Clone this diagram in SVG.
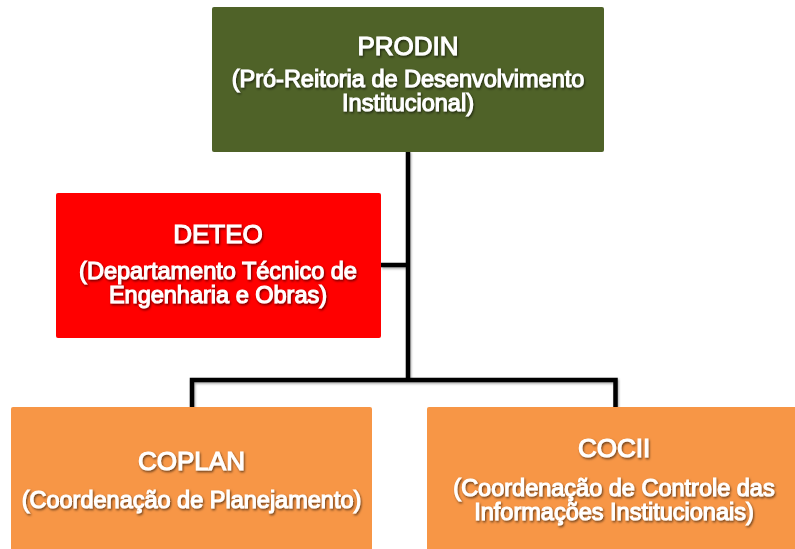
<svg xmlns="http://www.w3.org/2000/svg" width="795" height="549" viewBox="0 0 795 549">
<defs>
<filter id="ts" x="-10%" y="-30%" width="120%" height="160%">
<feDropShadow dx="1" dy="1.5" stdDeviation="0.9" flood-color="#000" flood-opacity="0.6"/>
</filter>
<filter id="ls" x="-10%" y="-10%" width="120%" height="120%">
<feDropShadow dx="1" dy="1.5" stdDeviation="1.2" flood-color="#000" flood-opacity="0.35"/>
</filter>
</defs>
<style>
.t{font-family:"Liberation Sans",Arial,sans-serif;fill:#fff;stroke:#fff;stroke-width:1.1;text-anchor:middle;filter:url(#ts)}
.h{font-size:26px}
.s{font-size:23.5px}
.c{fill:none;stroke:#000;stroke-width:4.5;stroke-linejoin:miter}
</style>
<rect width="795" height="549" fill="#fff"/>
<g id="connectors" filter="url(#ls)">
<path class="c" d="M408,151 V380"/>
<path class="c" d="M381,265 H408"/>
<path class="c" d="M192,407 V380 H615.5 V407"/>
</g>
<g id="prodin">
<rect x="212" y="7" width="392" height="145" rx="2" fill="#4F6228"/>
<text class="t h" x="408" y="55">PRODIN</text>
<text class="t s" x="408" y="87">(Pró-Reitoria de Desenvolvimento</text>
<text class="t s" x="408" y="111">Institucional)</text>
</g>
<g id="deteo">
<rect x="56" y="193" width="325" height="145" rx="2" fill="#FF0000"/>
<text class="t h" x="218" y="243">DETEO</text>
<text class="t s" x="218" y="279">(Departamento Técnico de</text>
<text class="t s" x="218" y="303">Engenharia e Obras)</text>
</g>
<g id="coplan">
<rect x="11" y="407" width="361" height="146" rx="2" fill="#F79646"/>
<text class="t h" x="191.5" y="470">COPLAN</text>
<text class="t s" x="191.5" y="508">(Coordenação de Planejamento)</text>
</g>
<g id="cocii">
<rect x="427" y="407" width="372" height="146" rx="2" fill="#F79646"/>
<text class="t h" x="614" y="457">COCII</text>
<text class="t s" x="614" y="496">(Coordenação de Controle das</text>
<text class="t s" x="614" y="520">Informações Institucionais)</text>
</g>
</svg>
